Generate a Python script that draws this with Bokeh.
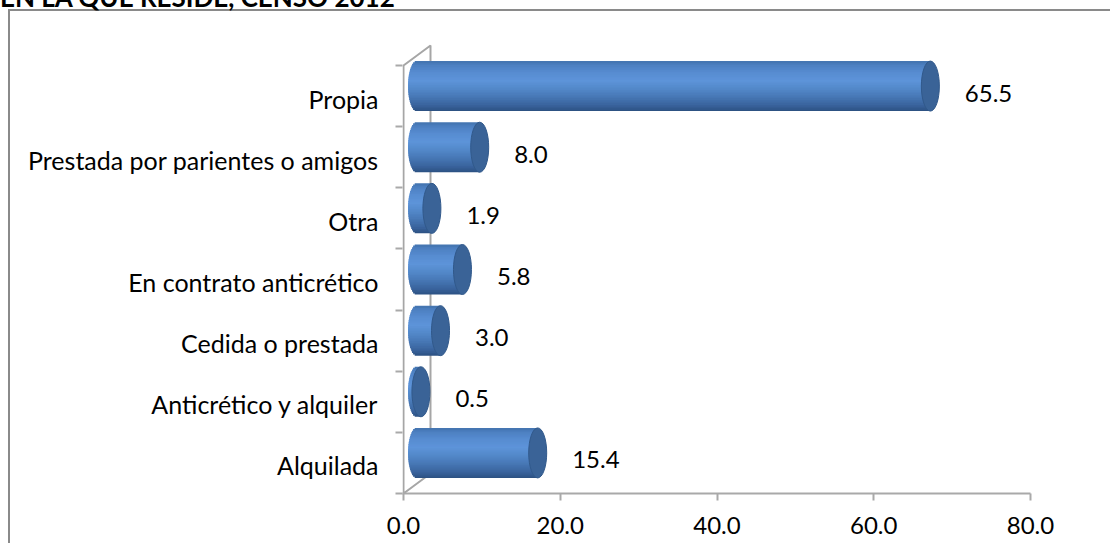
import numpy as np
from bokeh.plotting import figure
from bokeh.layouts import column
from bokeh.models import FixedTicker, Range1d, Div
from bokeh.core.properties import value
from bokeh.embed import file_html
from bokeh.resources import INLINE

# ---------------- data ----------------
categories = ["Propia", "Prestada por parientes o amigos", "Otra",
              "En contrato anticrético", "Cedida o prestada",
              "Anticrético y alquiler", "Alquilada"]
values = [65.5, 8.0, 1.9, 5.8, 3.0, 0.5, 15.4]
x_ticks = [0, 20, 40, 60, 80]
x_tick_labels = ["0.0", "20.0", "40.0", "60.0", "80.0"]
title_text = "EN LA QUE RESIDE, CENSO 2012"

# ---------------- layout (canvas pixels) ----------------
W, H = 1110, 543
FL, FR, FT, FB = 402, 1030, 40, 493      # frame edges
X0_PX = 403                              # pixel of value 0
XPU = (FR - X0_PX) / 80.0                # px per x unit
n = len(categories)
CAT_TOP = 65
YPU = (FB - CAT_TOP) / n                 # px per category

x_start = -(X0_PX - FL) / XPU
y_start = -0.5
y_end = y_start + (FB - FT) / YPU

FONT = "Lato"
FS = "24px"
FS_CAT = "25px"
AX = "#a9a9a9"
BORDER = "#8a8a8a"

bg = (f"linear-gradient({BORDER},{BORDER}) 8px 10px / 2px 2000px no-repeat, "
      f"linear-gradient({BORDER},{BORDER}) 8px 9px / 3000px 2px no-repeat, #ffffff")

p = figure(width=W, height=H, x_range=Range1d(x_start, 80), y_range=Range1d(y_start, y_end),
           output_backend="svg", toolbar_location=None,
           min_border_left=FL, min_border_right=W - FR,
           min_border_top=FT, min_border_bottom=H - FB,
           styles={"background": bg})
p.outline_line_color = None
p.xgrid.visible = False
p.ygrid.visible = False
p.background_fill_color = None
p.border_fill_color = None

# x axis
p.xaxis.ticker = FixedTicker(ticks=x_ticks)
p.xaxis.major_label_overrides = {t: l for t, l in zip(x_ticks, x_tick_labels)}
p.xaxis.axis_line_color = AX
p.xaxis.axis_line_width = 2
p.xaxis.major_tick_line_color = AX
p.xaxis.major_tick_line_width = 2
p.xaxis.major_tick_out = 7
p.xaxis.major_tick_in = 0
p.xaxis.minor_tick_line_color = None
p.xaxis.major_label_standoff = 16
p.xaxis.major_label_text_line_height = 1.0
p.xaxis.major_label_text_font = FONT
p.xaxis.major_label_text_font_size = FS
p.xaxis.major_label_text_color = "black"

# y axis (categories)
ypos = [n - 1 - i for i in range(n)]
label_pos = [y - 0.04 for y in ypos]
p.yaxis.ticker = FixedTicker(ticks=label_pos, minor_ticks=[k - 0.5 for k in range(n + 1)])
p.yaxis.major_label_overrides = {lp: c for lp, c in zip(label_pos, categories)}
p.yaxis.axis_line_color = None
p.yaxis.major_tick_line_color = None
p.yaxis.major_tick_out = 0
p.yaxis.major_tick_in = 0
p.yaxis.minor_tick_line_color = AX
p.yaxis.minor_tick_line_width = 2
p.yaxis.minor_tick_out = 7
p.yaxis.minor_tick_in = 0
p.yaxis.major_label_standoff = 17
p.yaxis.major_label_text_font = FONT
p.yaxis.major_label_text_font_size = FS_CAT
p.yaxis.major_label_text_color = "black"

# 3-D side wall edges
dxd = 27 / XPU
dyd = 20 / YPU
p.multi_line(xs=[[0, 0, dxd, dxd, 0]],
             ys=[[y_start, n - 0.5, n - 0.5 + dyd, y_start + dyd, y_start]],
             line_color="#a6a6a6", line_width=2)

# cylinders
stops_u = [0.0, 0.06, 0.22, 0.38, 0.55, 0.72, 0.88, 1.0]
stops_c = ["#4272ad", "#4c7fc0", "#578cd1", "#5d94d9", "#5287c8", "#4676b3", "#38629b", "#2b4f7f"]
stops_rgb = np.array([[int(c[i:i + 2], 16) for i in (1, 3, 5)] for c in stops_c], dtype=float)


def grad(u):
    r = np.interp(u, stops_u, stops_rgb[:, 0])
    g = np.interp(u, stops_u, stops_rgb[:, 1])
    b = np.interp(u, stops_u, stops_rgb[:, 2])
    return "#%02x%02x%02x" % (int(round(r)), int(round(g)), int(round(b)))


rad = 25 / YPU          # half height of cylinder (y units)
a = 9 / XPU             # half width of end ellipse (x units)
eps = 0.6 / YPU         # small overlap between strips
NS = 30
edges = np.linspace(-1, 1, NS + 1)
L, R, T, B, C = [], [], [], [], []
cap_x, cap_y = [], []
for v, y in zip(values, ypos):
    cy = y + dyd / 2
    x0 = dxd / 2
    x1 = v + dxd / 2
    for k in range(NS):
        t0, t1 = edges[k], edges[k + 1]
        tm = 0.5 * (t0 + t1)
        L.append(x0 - a * np.sqrt(max(0.0, 1 - tm * tm)))
        R.append(x1)
        B.append(cy + t0 * rad - (eps if k > 0 else 0))
        T.append(cy + t1 * rad + (eps if k < NS - 1 else 0))
        C.append(grad((1 - tm) / 2))
    cap_x.append(x1)
    cap_y.append(cy)

p.quad(left=L, right=R, top=T, bottom=B, fill_color=C, line_color=None)
p.ellipse(x=cap_x, y=cap_y, width=2 * a, height=2 * rad,
          fill_color="#3a6397", line_color="#31598b", line_width=1)

# value labels
p.text(x=values, y=ypos, text=[f"{v:.1f}" for v in values], x_offset=48, y_offset=-3,
       text_font=value(FONT), text_font_size=FS, text_baseline="middle",
       text_align="left", text_color="black")

# title line, cut off by the top edge of the page as in the reference
title_div = Div(text=title_text,
                styles={"position": "absolute", "left": "0px", "top": "-16px",
                        "font-family": "Lato", "font-weight": "bold", "font-size": "26px",
                        "line-height": "26px", "color": "black", "white-space": "nowrap",
                        "margin": "0px", "padding": "0px"})

layout = column(p, title_div, styles={"position": "absolute", "left": "0px", "top": "0px"})

open("out.html", "w").write(file_html(layout, INLINE))
